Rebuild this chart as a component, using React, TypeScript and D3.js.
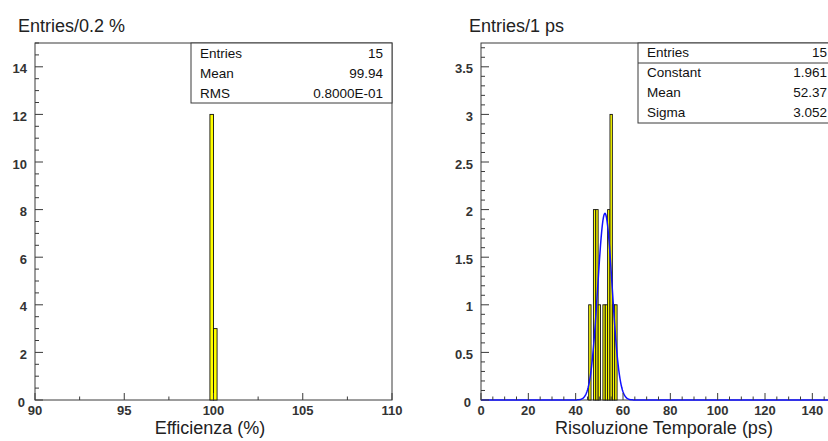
import React from 'react';
import * as d3 from 'd3';

// ---------- Data: left histogram (efficiency) ----------
const effBinStarts = [99.8, 100.0];
const effCounts = [12, 3];
const effBinWidth = 0.2;
const effXTicks = [90, 95, 100, 105, 110];
const effYTicks = [0, 2, 4, 6, 8, 10, 12, 14];
const effStatLabels = ['Entries', 'Mean', 'RMS'];
const effStatValues = ['15', '99.94', '0.8000E-01'];

// ---------- Data: right histogram (time resolution) ----------
const resBinStarts = [45.5, 46.5, 47.5, 48.5, 49.5, 50.5, 51.5, 52.5, 53.5, 54.5, 55.5, 56.5];
const resCounts = [1, 0, 2, 2, 1, 0, 1, 1, 2, 3, 1, 1];
const resBinWidth = 1;
const resXTicks = [0, 20, 40, 60, 80, 100, 120, 140];
const resYTicks = [0, 0.5, 1, 1.5, 2, 2.5, 3, 3.5];
const resStatLabels = ['Entries', 'Constant', 'Mean', 'Sigma'];
const resStatValues = ['15', '1.961', '52.37', '3.052'];
const fitConstant = 1.961;
const fitMean = 52.37;
const fitSigma = 3.052;

const FONT = '"Liberation Sans", Arial, Helvetica, sans-serif';

type PanelProps = {
  left: number; right: number; top: number; bottom: number;
  xDomain: [number, number]; yDomain: [number, number];
  xTicks: number[]; xMinorStep: number;
  yTicks: number[]; yMinorStep: number;
  binStarts: number[]; counts: number[]; binWidth: number;
  title: string; titleX: number;
  xTitle: string; xTitleX: number;
  statLabels: string[]; statValues: string[];
  statLeft: number; statRowBaselines: number[]; statBottom: number; statSeparator: boolean;
  fit?: boolean;
};

function Panel(p: PanelProps) {
  const x = d3.scaleLinear().domain(p.xDomain).range([p.left, p.right]);
  const y = d3.scaleLinear().domain(p.yDomain).range([p.bottom, p.top]);
  const xMinor = d3.range(p.xDomain[0], p.xDomain[1] + 1e-9, p.xMinorStep);
  const yMinor = d3.range(p.yDomain[0], p.yDomain[1] + 1e-9, p.yMinorStep);
  const isMajorX = (v: number) => p.xTicks.some(t => Math.abs(t - v) < 1e-6);
  const isMajorY = (v: number) => p.yTicks.some(t => Math.abs(t - v) < 1e-6);

  let fitPath: string | null = null;
  if (p.fit) {
    const pts = d3.range(p.xDomain[0], p.xDomain[1] + 1e-9, 0.25).map(v => [v, fitConstant * Math.exp(-0.5 * ((v - fitMean) / fitSigma) ** 2)] as [number, number]);
    fitPath = d3.line<[number, number]>().x(d => x(d[0])).y(d => y(d[1])).curve(d3.curveLinear)(pts);
  }

  const frameColor = '#3a3a3a';
  const statRight = p.right;
  return (
    <g>
      <text x={p.titleX} y={32} fontSize={18} fontFamily={FONT} fill="#222">{p.title}</text>
      <rect x={p.left} y={p.top} width={p.right - p.left} height={p.bottom - p.top} fill="white" stroke={frameColor} strokeWidth={1} />
      {p.binStarts.map((b, i) => p.counts[i] > 0 ? (
        <rect key={i} x={x(b)} y={y(p.counts[i])} width={x(b + p.binWidth) - x(b)} height={y(0) - y(p.counts[i])}
          fill="#ffff00" stroke="#111" strokeWidth={0.9} />
      ) : null)}
      {fitPath && <path d={fitPath} fill="none" stroke="#1010ff" strokeWidth={1.5} />}
      {xMinor.map((v, i) => (
        <line key={'xm' + i} x1={x(v)} x2={x(v)} y1={p.bottom} y2={p.bottom - (isMajorX(v) ? 7 : 3.5)} stroke={frameColor} strokeWidth={1} />
      ))}
      {yMinor.map((v, i) => (
        <line key={'ym' + i} x1={p.left} x2={p.left + (isMajorY(v) ? 8 : 4)} y1={y(v)} y2={y(v)} stroke={frameColor} strokeWidth={1} />
      ))}
      {p.xTicks.map((v, i) => (
        <text key={'xl' + i} x={x(v)} y={415} textAnchor="middle" fontSize={13} fontWeight="bold" fontFamily={FONT} fill="#333">{String(v)}</text>
      ))}
      {p.yTicks.map((v, i) => (
        <text key={'yl' + i} x={p.left - (v === 0 ? 10 : 8)} y={y(v) + (v === 0 ? 7 : 6.5)} textAnchor="end" fontSize={13} fontWeight="bold" fontFamily={FONT} fill="#333">{String(v)}</text>
      ))}
      <text x={p.xTitleX} y={434} textAnchor="middle" fontSize={18} fontFamily={FONT} fill="#222">{p.xTitle}</text>
      <rect x={p.statLeft} y={p.top} width={statRight - p.statLeft} height={p.statBottom - p.top} fill="white" stroke={frameColor} strokeWidth={1} />
      {p.statSeparator && (
        <line x1={p.statLeft} x2={statRight} y1={p.statRowBaselines[0] + 6} y2={p.statRowBaselines[0] + 6} stroke={frameColor} strokeWidth={1} />
      )}
      {p.statLabels.map((l, i) => (
        <g key={'st' + i}>
          <text x={p.statLeft + 9} y={p.statRowBaselines[i]} fontSize={13.5} fontFamily={FONT} fill="#111">{l}</text>
          <text x={statRight - 9} y={p.statRowBaselines[i]} textAnchor="end" fontSize={13.5} fontFamily={FONT} fill="#111">{p.statValues[i]}</text>
        </g>
      ))}
    </g>
  );
}

export default function App() {
  return (
    <svg width={828} height={441} style={{ position: 'absolute', left: 0, top: 0, background: 'white' }}>
      <rect x={0} y={0} width={828} height={441} fill="white" />
      <Panel
        left={35} right={392} top={43} bottom={400}
        xDomain={[90, 110]} yDomain={[0, 15]}
        xTicks={effXTicks} xMinorStep={2.5}
        yTicks={effYTicks} yMinorStep={0.5}
        binStarts={effBinStarts} counts={effCounts} binWidth={effBinWidth}
        title="Entries/0.2 %" titleX={18}
        xTitle="Efficienza (%)" xTitleX={210}
        statLabels={effStatLabels} statValues={effStatValues}
        statLeft={191} statRowBaselines={[58, 78, 98]} statBottom={103} statSeparator={false}
      />
      <Panel
        left={481} right={836} top={43} bottom={400}
        xDomain={[0, 150]} yDomain={[0, 3.75]}
        xTicks={resXTicks} xMinorStep={5}
        yTicks={resYTicks} yMinorStep={0.1}
        binStarts={resBinStarts} counts={resCounts} binWidth={resBinWidth}
        title="Entries/1 ps" titleX={469}
        xTitle="Risoluzione Temporale (ps)" xTitleX={664}
        statLabels={resStatLabels} statValues={resStatValues}
        statLeft={638} statRowBaselines={[57, 77, 97, 117]} statBottom={123} statSeparator={true}
        fit={true}
      />
    </svg>
  );
}
